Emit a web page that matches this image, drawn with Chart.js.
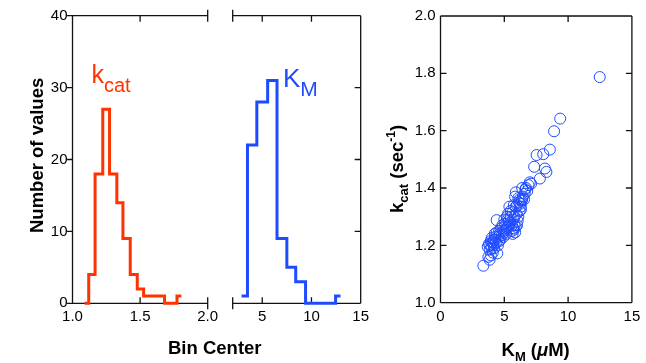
<!DOCTYPE html>
<html>
<head>
<meta charset="utf-8">
<script src="https://cdn.jsdelivr.net/npm/chart.js@4.4.1/dist/chart.umd.min.js"></script>
<style>
  html, body { margin: 0; padding: 0; background: #fff; }
  #wrap { position: relative; width: 646px; height: 363px; overflow: hidden; font-family: "Liberation Sans", Arial, sans-serif; }
  canvas { position: absolute; top: 0; }
  .lbl { position: absolute; white-space: nowrap; line-height: 1; color: #000; }
  .b { font-weight: bold; font-size: 18.5px; }
  .rot { transform: rotate(-90deg); transform-origin: 0 0; }
  .lbl span { position: relative; }
</style>
</head>
<body>
<div id="wrap">
  <canvas id="kcatHist" width="228" height="340" style="left:0px;width:228px;height:340px"></canvas>
  <canvas id="kmHist" width="160" height="340" style="left:216px;width:160px;height:340px"></canvas>
  <canvas id="scatter" width="276" height="340" style="left:370px;width:276px;height:340px"></canvas>

  <div class="lbl b rot" style="left:28px;top:233px">Number of values</div>
  <div class="lbl b" style="left:168px;top:339px">Bin Center</div>
  <div class="lbl" style="left:91.5px;top:62px;font-size:25px;color:#ff3300">k<span style="font-size:20px;top:8.7px">cat</span></div>
  <div class="lbl" style="left:283px;top:65px;font-size:26px;color:#1f4bff">K<span style="font-size:21px;top:9.4px">M</span></div>

  <div class="lbl b rot" style="left:388px;top:213px">k<span style="font-size:13px;top:5px">cat</span> (sec<span style="font-size:12px;top:-8px">-1</span>)</div>
  <div class="lbl b" style="left:501.5px;top:341px">K<span style="font-size:13px;top:5px">M</span> (<i>μ</i>M)</div>
</div>

<script>
// Histograms of kcat and KM (step outlines) plus the kcat vs KM scatter.

const RED = "#ff3300";
const BLUE = "#1f4bff";
const AXIS = "#111";
const TICK = 6;
const FONT = { family: "Liberation Sans", size: 15 };

// kcat histogram: bin edges and counts (one count per bin)
const kcatBinEdges = [1.09, 1.12, 1.167, 1.224, 1.274, 1.328, 1.373, 1.427, 1.479, 1.526, 1.578, 1.630, 1.681, 1.727, 1.773, 1.805];
const kcatCounts   = [0, 4, 18, 27, 18, 14, 9, 4, 2, 1, 1, 1, 0, 0, 1];

// KM histogram
const kmBinEdges = [2.9, 3.5, 4.45, 5.55, 6.5, 7.5, 8.4, 9.4, 10.4, 11.4, 12.45, 12.95];
const kmCounts   = [1, 22, 28, 31, 9, 5, 3, 0, 0, 0, 1];

// scatter: KM (uM) and kcat (1/s) per fit
const kmValues = [
    3.36,
    3.75, 3.85, 3.95, 3.70, 3.80, 3.90, 4.00, 4.05, 3.85, 4.10, 4.20, 4.15, 4.30, 4.00, 4.25, 4.35, 4.40, 4.10, 4.30, 4.40, 3.95, 4.20,
    4.45, 4.50, 4.60, 4.70, 4.55, 4.65, 4.80, 4.90, 4.75, 5.00, 5.10, 4.85, 5.20, 5.05, 5.30, 4.95, 5.15, 5.40, 5.25, 5.35, 5.50, 5.45, 4.60, 5.00, 5.20, 5.30, 5.50, 5.40,
    5.60, 5.70, 5.65, 5.80, 5.75, 5.90, 5.60, 6.00, 5.85, 5.70, 5.80, 5.95, 6.10, 5.65, 6.20, 6.05, 6.30,
    5.90, 6.00, 6.15, 6.25, 5.75, 6.40, 6.10, 6.35, 5.85, 6.45, 6.20, 6.30, 5.90, 6.40,
    7.34, 7.00, 6.60, 6.70, 6.90, 6.55, 6.80, 7.10, 6.65,
    7.53, 8.05, 8.18, 8.30, 7.79,
    8.57, 8.90, 9.38,
    12.48
];
const kcatValues = [
    1.129,
    1.160, 1.150, 1.165, 1.195, 1.205, 1.200, 1.190, 1.210, 1.185, 1.175, 1.220, 1.200, 1.230, 1.225, 1.240, 1.210, 1.288, 1.210, 1.220, 1.245, 1.215, 1.190,
    1.172, 1.200, 1.215, 1.220, 1.230, 1.240, 1.235, 1.250, 1.260, 1.245, 1.255, 1.270, 1.260, 1.275, 1.265, 1.230, 1.240, 1.270, 1.290, 1.285, 1.300, 1.280, 1.250, 1.290, 1.300, 1.310, 1.320, 1.335,
    1.250, 1.260, 1.240, 1.270, 1.255, 1.265, 1.270, 1.270, 1.245, 1.290, 1.300, 1.310, 1.300, 1.315, 1.320, 1.285, 1.325,
    1.335, 1.340, 1.350, 1.345, 1.340, 1.360, 1.365, 1.355, 1.370, 1.370, 1.360, 1.335, 1.385, 1.400,
    1.474, 1.420, 1.380, 1.400, 1.410, 1.360, 1.390, 1.415, 1.395,
    1.515, 1.518, 1.468, 1.456, 1.433,
    1.534, 1.598, 1.642,
    1.787
];

// tick values
const countTicks = [0, 10, 20, 30, 40];
const kcatTicks = [1.0, 1.5, 2.0];
const kmTicks = [5, 10, 15];
const scatterXTicks = [0, 5, 10, 15];
const scatterYTicks = [1.0, 1.2, 1.4, 1.6, 1.8, 2.0];

function stepPoints(edges, counts) {
    const pts = counts.map((c, i) => ({ x: edges[i], y: c }));
    pts.push({ x: edges[edges.length - 1], y: counts[counts.length - 1] });
    return pts;
}

// Frame, broken-axis caps and ticks drawn by hand so ticks can point inward.
const framePlugin = {
    id: "frame",
    beforeDatasetsDraw(chart, args, cfg) {
        const { ctx, chartArea: a, scales: { x, y } } = chart;
        ctx.save();
        ctx.strokeStyle = AXIS;
        ctx.lineWidth = 1.3;
        ctx.beginPath();
        const seg = (x1, y1, x2, y2) => { ctx.moveTo(x1, y1); ctx.lineTo(x2, y2); };
        seg(a.left, a.top, a.right, a.top);
        seg(a.left, a.bottom, a.right, a.bottom);
        if (cfg.left) seg(a.left, a.top, a.left, a.bottom);
        if (cfg.right) seg(a.right, a.top, a.right, a.bottom);
        (cfg.caps || []).forEach(side => {
            const cx = side === "left" ? a.left : a.right;
            seg(cx, a.top - 6, cx, a.top + 6);
            seg(cx, a.bottom - 6, cx, a.bottom + 6);
        });
        (cfg.xTicks || []).forEach(v => {
            const px = x.getPixelForValue(v);
            seg(px, a.top, px, a.top + TICK);
            seg(px, a.bottom, px, a.bottom - TICK);
        });
        (cfg.yTicks || []).forEach(v => {
            const py = y.getPixelForValue(v);
            if (cfg.yLeft === "out") seg(a.left - TICK, py, a.left, py);
            if (cfg.yLeft === "in") seg(a.left, py, a.left + TICK, py);
            if (cfg.yRight === "in") seg(a.right - TICK, py, a.right, py);
        });
        ctx.stroke();
        ctx.restore();
    }
};

function fixSize(w, h) {
    return s => {
        if (w != null) s.width = w;
        if (h != null) s.height = h;
        s.paddingTop = 0; s.paddingBottom = 0; s.paddingLeft = 0; s.paddingRight = 0;
    };
}

function axis(min, max, ticks, fmt, fit, display = true) {
    return {
        type: "linear",
        display,
        min, max,
        grid: { display: false, drawTicks: false },
        border: { display: false },
        afterBuildTicks: s => { s.ticks = ticks.map(v => ({ value: v })); },
        afterFit: fit,
        ticks: { color: "#000", font: FONT, padding: 5, maxRotation: 0, autoSkip: false, callback: fmt }
    };
}

function baseOptions(padding, scales, frame) {
    return {
        responsive: false,
        animation: false,
        events: [],
        layout: { padding },
        plugins: { legend: { display: false }, tooltip: { enabled: false }, frame },
        scales
    };
}

function histDataset(edges, counts, color) {
    return {
        data: stepPoints(edges, counts),
        borderColor: color,
        borderWidth: 3,
        stepped: true,
        pointRadius: 0,
        fill: false,
        clip: false,
        borderCapStyle: "butt",
        borderJoinStyle: "miter"
    };
}

new Chart(document.getElementById("kcatHist"), {
    type: "line",
    data: { datasets: [histDataset(kcatBinEdges, kcatCounts, RED)] },
    options: baseOptions(
        { top: 15.7, right: 20.3, left: 0, bottom: 0 },
        {
            x: axis(1.0, 2.0, kcatTicks, v => v.toFixed(1), fixSize(null, 36.7)),
            y: axis(0, 40, countTicks, v => String(v), fixSize(72.5, null))
        },
        { left: true, caps: ["right"], xTicks: kcatTicks, yTicks: countTicks, yLeft: "out" }
    ),
    plugins: [framePlugin]
});

new Chart(document.getElementById("kmHist"), {
    type: "line",
    data: { datasets: [histDataset(kmBinEdges, kmCounts, BLUE)] },
    options: baseOptions(
        { top: 15.7, right: 15.3, left: 16.7, bottom: 0 },
        {
            x: axis(2, 15, kmTicks, v => String(v), fixSize(null, 36.7)),
            y: axis(0, 40, countTicks, v => String(v), fixSize(0, null), false)
        },
        { right: true, caps: ["left"], xTicks: kmTicks, yTicks: countTicks, yRight: "in" }
    ),
    plugins: [framePlugin]
});

new Chart(document.getElementById("scatter"), {
    type: "scatter",
    data: {
        datasets: [{
            data: kmValues.map((v, i) => ({ x: v, y: kcatValues[i] })),
            pointStyle: "circle",
            pointRadius: 5.5,
            pointBorderWidth: 1,
            pointBorderColor: BLUE,
            pointBackgroundColor: "rgba(0,0,0,0)",
            clip: false
        }]
    },
    options: baseOptions(
        { top: 16, right: 14.1, left: 0, bottom: 0 },
        {
            x: axis(0, 15, scatterXTicks, v => String(v), fixSize(null, 37.3)),
            y: axis(1.0, 2.0, scatterYTicks, v => v.toFixed(1), fixSize(70.5, null))
        },
        { left: true, right: true, xTicks: scatterXTicks, yTicks: scatterYTicks, yLeft: "in", yRight: "in" }
    ),
    plugins: [framePlugin]
});
</script>
</body>
</html>
